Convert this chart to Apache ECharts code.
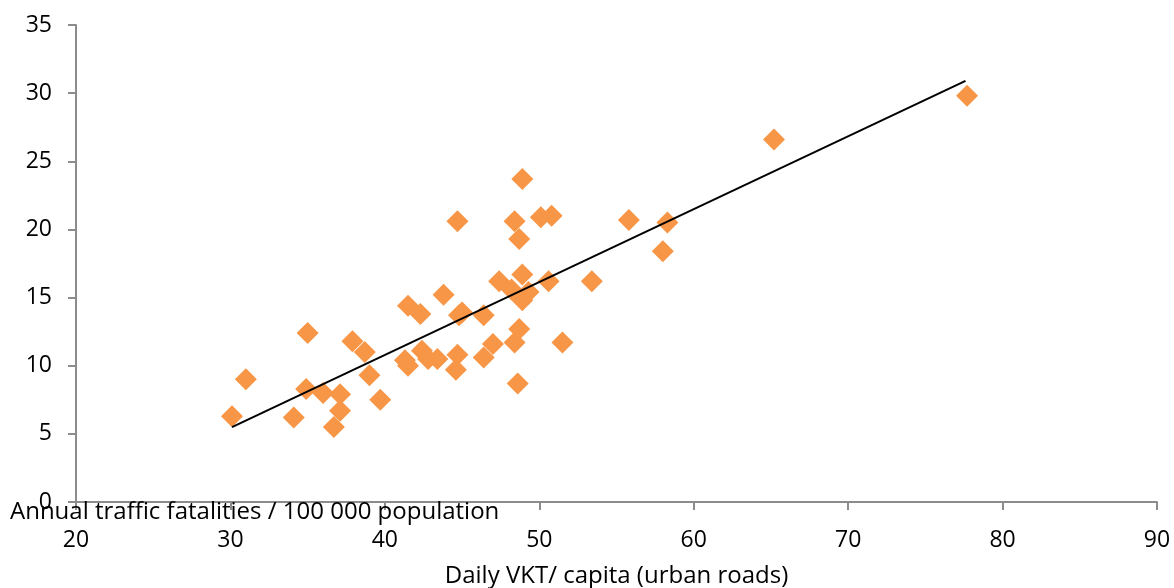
<!DOCTYPE html>
<html>
<head>
<meta charset="utf-8">
<script src="https://cdn.jsdelivr.net/npm/echarts@6/dist/echarts.min.js"></script>
<style>
html,body{margin:0;padding:0;background:#fff;}
#chart{width:1174px;height:588px;}
</style>
</head>
<body>
<div id="chart"></div>
<script>
// Daily VKT per capita (urban roads)
const vkt = [30.1, 31.0, 35.0, 34.9, 34.1, 36.0, 37.1, 37.1, 36.7, 37.9,
             38.7, 39.0, 39.7, 41.5, 42.3, 43.8, 44.7, 41.3, 41.5, 42.4,
             42.8, 43.4, 44.7, 44.6, 44.8, 45.0, 46.4, 46.4, 47.0, 47.4,
             48.4, 48.6, 48.7, 48.9, 48.4, 48.7, 48.9, 48.2, 49.3, 48.9,
             50.1, 50.8, 50.6, 51.5, 53.4, 55.8, 58.0, 58.3, 65.2, 77.7];
// Annual traffic fatalities / 100 000 population
const fatalities = [6.3, 9.0, 12.4, 8.3, 6.2, 8.0, 7.9, 6.7, 5.5, 11.8,
                    11.0, 9.3, 7.5, 14.4, 13.8, 15.2, 20.6, 10.4, 10.0, 11.1,
                    10.5, 10.5, 10.8, 9.7, 13.7, 13.9, 10.6, 13.7, 11.6, 16.2,
                    11.7, 8.7, 12.7, 23.7, 20.6, 19.3, 16.7, 15.6, 15.4, 14.8,
                    20.9, 21.0, 16.2, 11.7, 16.2, 20.7, 18.4, 20.5, 26.6, 29.8];
// Linear trend line endpoints
const trendX = [30.1, 77.6];
const trendY = [5.5, 30.9];
const xTicks = [20, 30, 40, 50, 60, 70, 80, 90];
const yTicks = [0, 5, 10, 15, 20, 25, 30, 35];

const FONT = '"Open Sans", "Noto Sans", sans-serif';
const chart = echarts.init(document.getElementById('chart'));
chart.setOption({
  animation: false,
  backgroundColor: '#fff',
  title: {
    text: 'Annual traffic fatalities / 100 000 population',
    left: 10, top: 500, padding: 0,
    textStyle: {fontFamily: FONT, fontSize: 24, fontWeight: 'normal', color: '#000'}
  },
  grid: {left: 76, right: 17, top: 25, bottom: 86, containLabel: false, outerBoundsMode: 'none'},
  xAxis: {
    type: 'value', min: xTicks[0], max: xTicks[xTicks.length-1], interval: 10,
    name: 'Daily VKT/ capita (urban roads)',
    nameLocation: 'middle', nameGap: 62,
    nameTextStyle: {fontFamily: FONT, fontSize: 24, color: '#000'},
    axisLine: {show: true, lineStyle: {color: '#8c8c8c', width: 2}},
    axisTick: {show: true, inside: false, length: 8, lineStyle: {color: '#8c8c8c', width: 2}},
    axisLabel: {fontFamily: FONT, fontSize: 23, color: '#000', margin: 27},
    splitLine: {show: false}
  },
  yAxis: {
    type: 'value', min: yTicks[0], max: yTicks[yTicks.length-1], interval: 5,
    axisLine: {show: true, lineStyle: {color: '#8c8c8c', width: 2}},
    axisTick: {show: true, inside: false, length: 8, lineStyle: {color: '#8c8c8c', width: 2}},
    axisLabel: {fontFamily: FONT, fontSize: 23, color: '#000', margin: 24},
    splitLine: {show: false}
  },
  series: [
    {
      type: 'scatter',
      symbol: 'diamond',
      symbolSize: 22,
      itemStyle: {color: '#F79646', opacity: 1},
      data: vkt.map((v, i) => [v, fatalities[i]]),
      z: 2
    },
    {
      type: 'line',
      data: trendX.map((v, i) => [v, trendY[i]]),
      showSymbol: false,
      symbol: 'none',
      lineStyle: {color: '#000', width: 2},
      z: 3
    }
  ]
});
</script>
</body>
</html>
